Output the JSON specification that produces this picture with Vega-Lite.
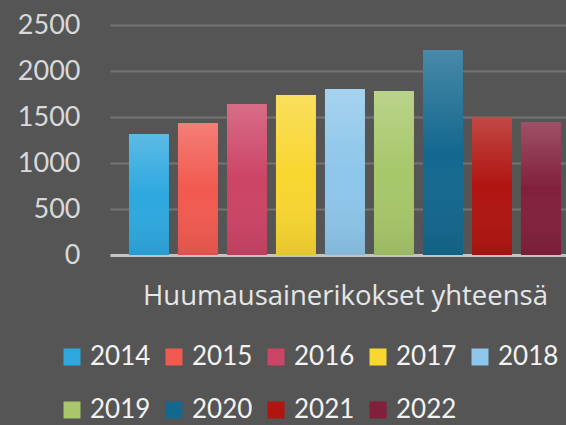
{
  "$schema": "https://vega.github.io/schema/vega-lite/v6.json",
  "width": 456,
  "height": 230,
  "autosize": {"type": "none"},
  "padding": {"left": 110, "top": 25, "right": 0, "bottom": 170},
  "background": "#555555",
  "data": {
    "values": [
      {"luokka": "Huumausainerikokset yhteensä", "vuosi": "2014", "arvo": 1315},
      {"luokka": "Huumausainerikokset yhteensä", "vuosi": "2015", "arvo": 1435},
      {"luokka": "Huumausainerikokset yhteensä", "vuosi": "2016", "arvo": 1641},
      {"luokka": "Huumausainerikokset yhteensä", "vuosi": "2017", "arvo": 1739},
      {"luokka": "Huumausainerikokset yhteensä", "vuosi": "2018", "arvo": 1804},
      {"luokka": "Huumausainerikokset yhteensä", "vuosi": "2019", "arvo": 1783},
      {"luokka": "Huumausainerikokset yhteensä", "vuosi": "2020", "arvo": 2228},
      {"luokka": "Huumausainerikokset yhteensä", "vuosi": "2021", "arvo": 1497},
      {"luokka": "Huumausainerikokset yhteensä", "vuosi": "2022", "arvo": 1446}
    ]
  },
  "config": {
    "view": {"stroke": null},
    "font": "Lato"
  },
  "encoding": {
    "x": {
      "field": "vuosi",
      "type": "nominal",
      "sort": null,
      "scale": {"paddingInner": 0.1837, "paddingOuter": 0.245, "align": 0.79},
      "axis": {
        "title": "Huumausainerikokset yhteensä",
        "labels": false,
        "ticks": false,
        "domain": true,
        "domainColor": "#c4c4c4",
        "domainWidth": 3,
        "titleColor": "#e6e6e6",
        "titleFont": "Open Sans",
        "titleFontSize": 27.5,
        "titleFontWeight": "normal",
        "titleX": 235,
        "titleY": 41,
        "titleBaseline": "middle",
        "titleAlign": "center"
      }
    },
    "y": {
      "field": "arvo",
      "type": "quantitative",
      "scale": {"domain": [0, 2500], "nice": false},
      "axis": {
        "title": null,
        "format": "d",
        "values": [0, 500, 1000, 1500, 2000, 2500],
        "ticks": false,
        "domain": false,
        "labelColor": "#d9d9d9",
        "labelFontSize": 27,
        "labelPadding": 30,
        "gridColor": "#747474",
        "gridWidth": 2
      }
    }
  },
  "layer": [
    {
      "mark": {"type": "bar", "strokeWidth": 0},
      "encoding": {
        "color": {
          "field": "vuosi",
          "type": "nominal",
          "sort": null,
          "scale": {
            "range": ["#2ea8df", "#f15a50", "#cc4466", "#f8d630", "#8dc6ea", "#a7c76a", "#14688f", "#b01510", "#82203c"]
          },
          "legend": {
            "title": null,
            "orient": "none",
            "legendX": -51,
            "legendY": 319,
            "direction": "horizontal",
            "columns": 5,
            "symbolType": "square",
            "symbolSize": 289,
            "symbolStrokeWidth": 0,
            "symbolOpacity": 1,
            "labelColor": "#f2f2f2",
            "labelFontSize": 26,
            "labelOffset": 5,
            "columnPadding": 10,
            "rowPadding": 27
          }
        }
      }
    },
    {
      "mark": {
        "type": "bar",
        "strokeWidth": 0,
        "color": {
          "gradient": "linear",
          "x1": 0, "y1": 0, "x2": 0, "y2": 1,
          "stops": [
            {"offset": 0, "color": "rgba(255,255,255,0.22)"},
            {"offset": 0.5, "color": "rgba(255,255,255,0)"},
            {"offset": 1, "color": "rgba(0,0,0,0.08)"}
          ]
        }
      },
      "encoding": {}
    }
  ]
}
